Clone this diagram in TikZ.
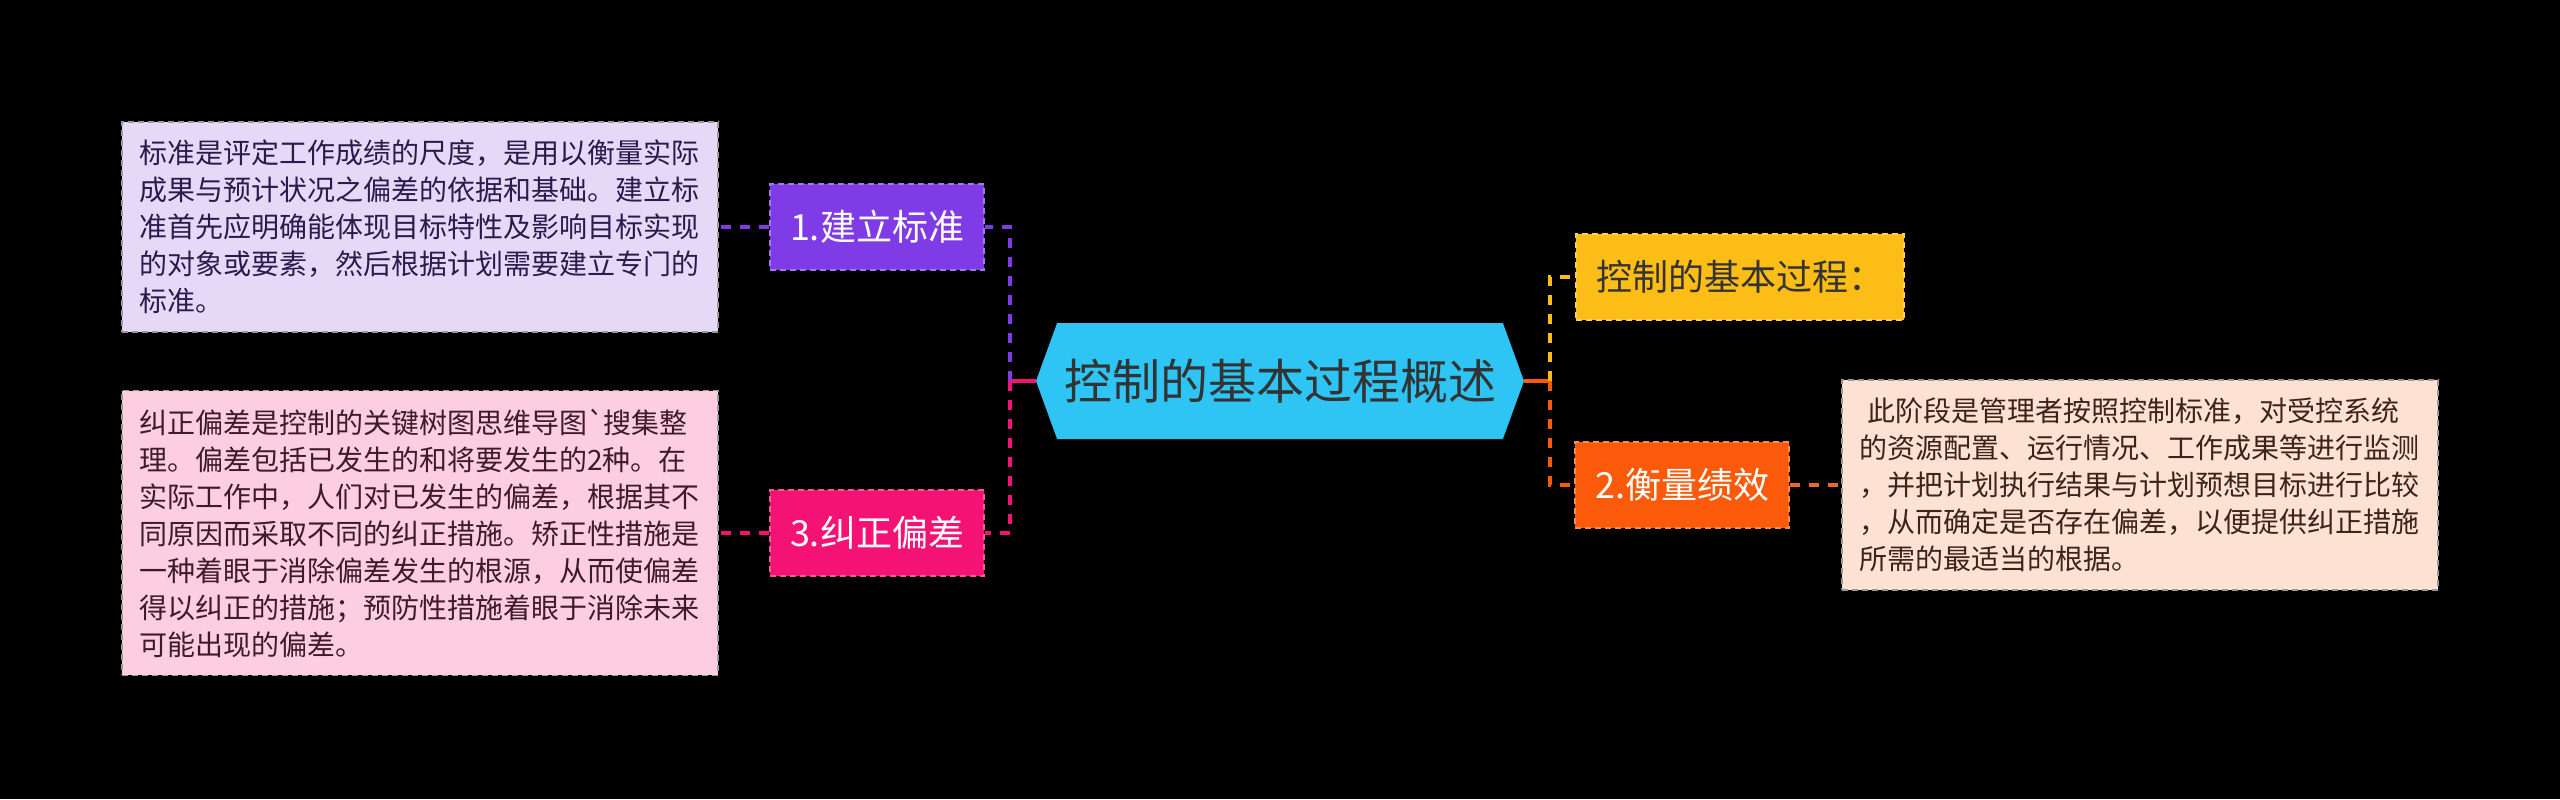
\documentclass[tikz,border=0pt]{standalone}
\usepackage{fontspec}
\newfontfamily\cjk{Noto Sans CJK SC}
\usetikzlibrary{shapes.symbols}
\definecolor{rootblue}{HTML}{2EC4F3}
\definecolor{textgray}{HTML}{333333}
\definecolor{nodepurple}{HTML}{7F3CE6}
\definecolor{nodepink}{HTML}{F41274}
\definecolor{nodeyellow}{HTML}{FCBE16}
\definecolor{nodeorange}{HTML}{FA5A0A}
\definecolor{notepurple}{HTML}{E6D9F8}
\definecolor{notepink}{HTML}{FDCDE0}
\definecolor{notepeach}{HTML}{FDE1D3}
\definecolor{inkpurple}{HTML}{2A1B4C}
\definecolor{inkpink}{HTML}{3E1B2C}
\definecolor{inkpeach}{HTML}{3C2418}
\definecolor{linkorange}{HTML}{E8682E}
\begin{document}
\begin{tikzpicture}[x=0.5pt,y=-0.5pt,
    topic/.style={shape=signal, signal to=west and east, signal pointer angle=140,
                  fill=rootblue, text=textgray, inner sep=0pt,
                  minimum width=244pt, minimum height=58pt,
                  font=\cjk\fontsize{24}{28}\selectfont},
    branch/.style={fill=#1, draw=#1!70!white, line width=0.75pt,
                   dash pattern=on 3pt off 2pt, text=white,
                   minimum height=43pt, inner xsep=10pt,
                   font=\cjk\fontsize{18}{22}\selectfont},
    note/.style={fill=#1, draw=gray!80, line width=0.75pt,
                 dash pattern=on 3pt off 2pt, text width=281pt, align=left,
                 inner xsep=8.5pt, inner ysep=9pt,
                 font=\cjk\fontsize{14}{18.5}\selectfont},
    link/.style={draw=#1, line width=2pt, dash pattern=on 5pt off 4.5pt},
    stem/.style={draw=#1, line width=2pt}]
  \fill[black] (0,0) rectangle (2560,799);
  \useasboundingbox (0,0) rectangle (2560,799);
  % centre topic
  \node[topic] (root) at (1280,381) {控制的基本过程概述};
  \coordinate (trunkL) at (1010,381);
  \coordinate (trunkR) at (1550,381);
  % branches
  \node[branch=nodepurple] (build) at (877,227) {1.建立标准};
  \node[branch=nodepink] (correct) at (877,533) {3.纠正偏差};
  \node[branch=nodeyellow, text=textgray] (steps) at (1740,277) {控制的基本过程：};
  \node[branch=nodeorange] (measure) at (1682,485) {2.衡量绩效};
  % notes
  \node[note=notepurple, text=inkpurple] (buildnote) at (420,227)
    {标准是评定工作成绩的尺度，是用以衡量实际\\
     成果与预计状况之偏差的依据和基础。建立标\\
     准首先应明确能体现目标特性及影响目标实现\\
     的对象或要素，然后根据计划需要建立专门的\\
     标准。};
  \node[note=notepink, text=inkpink] (correctnote) at (420,533)
    {纠正偏差是控制的关键树图思维导图`搜集整\\
     理。偏差包括已发生的和将要发生的2种。在\\
     实际工作中，人们对已发生的偏差，根据其不\\
     同原因而采取不同的纠正措施。矫正性措施是\\
     一种着眼于消除偏差发生的根源，从而使偏差\\
     得以纠正的措施；预防性措施着眼于消除未来\\
     可能出现的偏差。};
  \node[note=notepeach, text=inkpeach] (measurenote) at (2140,485)
    {\hspace*{4pt}此阶段是管理者按照控制标准，对受控系统\\
     的资源配置、运行情况、工作成果等进行监测\\
     ，并把计划执行结果与计划预想目标进行比较\\
     ，从而确定是否存在偏差，以便提供纠正措施\\
     所需的最适当的根据。};
  % connectors
  \draw[stem=nodepink] (root.west) -- (trunkL);
  \draw[link=nodepurple] (trunkL) |- (build.east);
  \draw[link=nodepink] (trunkL) |- (correct.east);
  \draw[stem=nodeorange] (root.east) -- (trunkR);
  \draw[link=nodeyellow] (trunkR) |- (steps.west);
  \draw[link=nodeorange] (trunkR) |- (measure.west);
  \draw[link=nodepurple] (build.west) -- (buildnote.east);
  \draw[link=nodepink] (correct.west) -- (correctnote.east);
  \draw[link=linkorange] (measure.east) -- (measurenote.west);
\end{tikzpicture}
\end{document}
